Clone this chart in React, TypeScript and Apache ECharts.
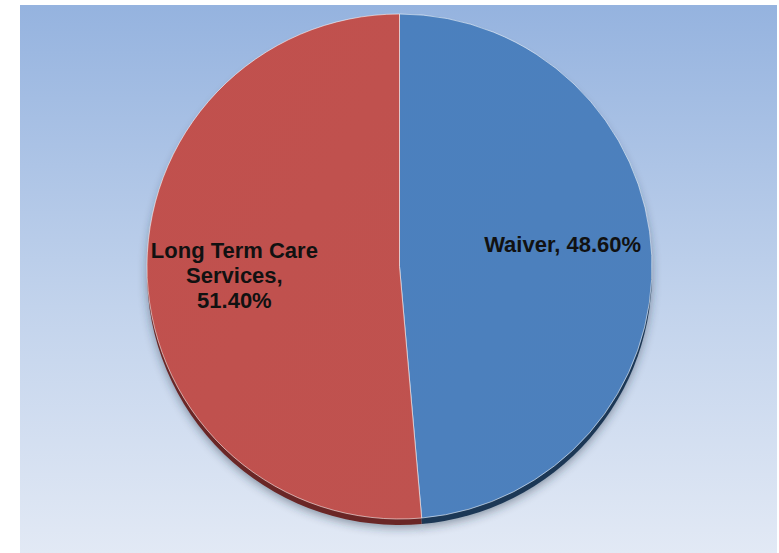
import React, { useEffect, useRef } from "react";
import * as echarts from "echarts";

const categories = ["Waiver", "Long Term Care Services"];
const displayNames = ["Waiver", "Long Term Care\nServices"];
const values = [48.6, 51.4];
const topColors = ["#4A7EBB", "#BE4F4C"];
const rimColors = ["#1E3756", "#6A2826"];

export default function App() {
  const ref = useRef<HTMLDivElement>(null);
  useEffect(() => {
    const chart = echarts.init(ref.current!, undefined, { renderer: "svg" });
    const cx = 399.5;
    const cy = 266.5;
    const r = 252.5;
    chart.setOption({
      animation: false,
      graphic: {
        elements: [
          {
            type: "rect",
            z: -100,
            silent: true,
            shape: { x: 20, y: 5, width: 757, height: 548 },
            style: {
              fill: new echarts.graphic.LinearGradient(0, 0, 0, 1, [
                { offset: 0, color: "#95B3DF" },
                { offset: 0.55, color: "#C2D3EC" },
                { offset: 1, color: "#E2E9F5" },
              ]),
            },
          },
        ],
      },
      series: [
        {
          type: "pie",
          silent: true,
          center: [cx, cy + 6],
          radius: r,
          startAngle: 90,
          clockwise: true,
          label: { show: false },
          labelLine: { show: false },
          itemStyle: {
            shadowColor: "rgba(40,50,70,0.45)",
            shadowBlur: 10,
            shadowOffsetY: 3,
          },
          data: categories.map((c, i) => ({
            name: c,
            value: values[i],
            itemStyle: { color: rimColors[i] },
          })),
          z: 1,
        },
        {
          type: "pie",
          center: [cx, cy],
          radius: r,
          startAngle: 90,
          clockwise: true,
          emphasis: { disabled: true },
          itemStyle: {
            borderColor: "rgba(255,255,255,0.55)",
            borderWidth: 1,
          },
          label: {
            show: true,
            position: "inside",
            color: "#111111",
            fontFamily: "Liberation Sans, Arial, sans-serif",
            fontWeight: "bold",
            fontSize: 22,
            lineHeight: 25,
            formatter: (p: any) => {
              const n = displayNames[p.dataIndex];
              const sep = n.indexOf("\n") >= 0 ? ",\n" : ", ";
              return `${n}${sep}${Number(p.value).toFixed(2)}%`;
            },
          },
          labelLine: { show: false },
          labelLayout: (p: any) =>
            p.dataIndex === 0 ? { dx: 34, dy: -16 } : { dx: -36, dy: 3 },
          data: categories.map((c, i) => ({
            name: c,
            value: values[i],
            itemStyle: {
              color: new echarts.graphic.LinearGradient(0, 0, 1, 1, [
                { offset: 0, color: echarts.color.lift(topColors[i], -0.02) },
                { offset: 1, color: echarts.color.lift(topColors[i], 0.02) },
              ]),
            },
          })),
          z: 2,
        },
      ],
    });
    return () => chart.dispose();
  }, []);
  return (
    <div
      ref={ref}
      style={{ position: "absolute", left: 0, top: 0, width: 779, height: 553, background: "#fff" }}
    />
  );
}
